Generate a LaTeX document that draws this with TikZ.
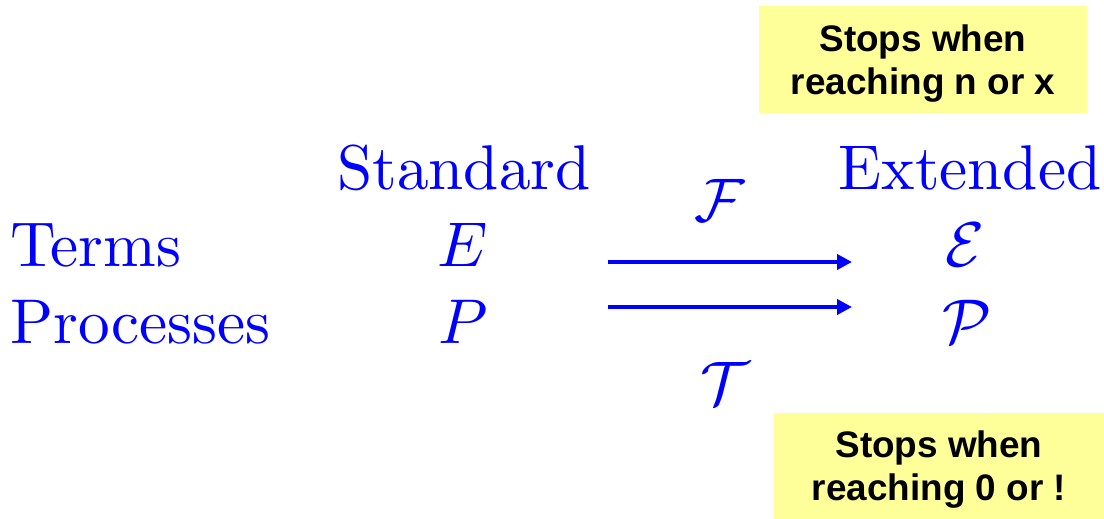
\documentclass[tikz,border=0pt]{standalone}
\usepackage{fontspec}
\setmainfont{lmroman10-regular.otf}
\setsansfont{Liberation Sans}
\DeclareFontShape{OML}{cmm}{m}{it}{<-> cmmi10}{}
\DeclareFontShape{OMS}{cmsy}{m}{n}{<-> cmsy10}{}
\usepackage{tikz}
\usetikzlibrary{positioning,arrows.meta}
\definecolor{TermBlue}{HTML}{0000FF}
\definecolor{NoteYellow}{HTML}{FFFF99}

\begin{document}
\begin{tikzpicture}[
    x=0.02cm, y=-0.02cm,
    word/.style={inner sep=0pt, anchor=base, font=\fontsize{36}{43}\selectfont\color{TermBlue}},
    rowname/.style={word, anchor=base west},
    fun/.style={inner sep=0pt, font=\fontsize{35}{42}\selectfont\color{TermBlue}},
    note/.style={rectangle, fill=NoteYellow, inner sep=0pt, text depth=0pt, align=center, font=\sffamily\bfseries\fontsize{21}{24.5}\selectfont},
    map/.style={-{Triangle[length=0.3cm,width=0.3cm]}, line width=0.08cm, TermBlue}
  ]
    \useasboundingbox (0,0) rectangle (1104,519);

    % Notes
    \node (nstop) [note, minimum width=6.56cm, minimum height=2.14cm] at (923,59.5) {Stops when\\reaching n or x};
    \node (pstop) [note, minimum width=6.6cm, minimum height=2.12cm] at (939,466) {Stops when\\reaching 0 or !};

    % Column heads
    \node (std) [word] at (464,190) {Standard};
    \node (ext) [word] at (970,190) {Extended};

    % Rows
    \node (terms) [rowname] at (10,267) {Terms};
    \node (procs) [rowname] at (10,344) {Processes};
    \node (e) [word] at (463,267) {$E$};
    \node (p) [word] at (463,344) {$P$};
    \node (ee) [word] at (965,267) {$\mathcal{E}$};
    \node (pp) [word] at (967,344) {$\mathcal{P}$};

    % Translations
    \node (f) [fun] at (720,200) {$\mathcal{F}$};
    \node (t) [fun] at (725,383) {$\mathcal{T}$};
    \coordinate (f0) at (608,262);
    \coordinate (f1) at (852,262);
    \coordinate (t0) at (608,307);
    \coordinate (t1) at (852,307);
    \draw [map] (f0) -- (f1);
    \draw [map] (t0) -- (t1);
  \end{tikzpicture}
\end{document}
